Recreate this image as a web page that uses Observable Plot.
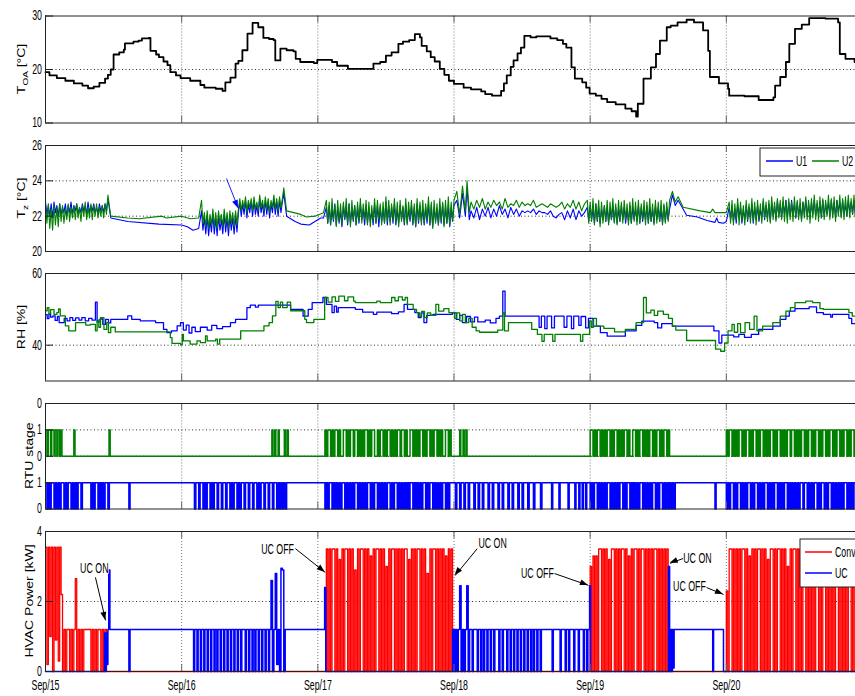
<!DOCTYPE html>
<html><head><meta charset="utf-8">
<script src="https://cdn.jsdelivr.net/npm/d3@7"></script>
<script src="https://cdn.jsdelivr.net/npm/@observablehq/plot@0.6"></script>
<style>
html,body{margin:0;padding:0;background:#fff;overflow:hidden}
#wrap{position:relative;width:855px;height:696px;overflow:hidden;background:#fff}
#wrap svg{position:absolute;left:0;overflow:hidden}
</style></head>
<body><div id="wrap"></div>
<script>
// ---------- shared axis data (hours from Sep/15 00:00) ----------
const dayTicks = [0, 24, 48, 72, 96, 120];
const dayLabels = ["Sep/15", "Sep/16", "Sep/17", "Sep/18", "Sep/19", "Sep/20"];

// ---------- Panel 1: outdoor air temperature [°C] ----------
const toa = [[0,19.5],[0.7,18.9],[2,18.4],[3.5,17.9],[5,17.4],[6.5,17.0],[7.5,16.5],[8.5,16.8],[9.5,17.5],[10.5,18.3],[11,19.0],[11.5,20.0],[12,22.8],[13,23.2],[13.8,23.7],[14,24.9],[15.5,25.2],[16.4,25.4],[17,25.8],[18.2,25.9],[18.5,23.5],[19.5,22.8],[20,22.3],[20.8,21.5],[21.5,20.8],[22,19.5],[23,18.9],[23.8,18.4],[25.5,17.9],[27.3,17.1],[28,16.6],[30,16.4],[31.2,16.0],[31.7,17.6],[32.6,18.5],[33.5,21.1],[34,21.6],[34.7,23.6],[35.6,26.7],[36.5,28.7],[37.5,27.9],[38.4,25.9],[39.4,25.7],[40.2,25.5],[40.5,21.7],[41.4,23.9],[42.5,23.6],[43.7,23.4],[44.1,22.0],[44.9,21.4],[47.3,21.2],[47.9,21.8],[50.5,21.4],[51.4,20.7],[53.3,20.1],[57.8,21.1],[59,21.4],[60,22.6],[61,23.2],[62.2,24.8],[63,25.2],[64.1,25.5],[65.1,26.6],[66,26.0],[66.3,24.4],[67.2,23.4],[67.9,22.3],[68.6,21.5],[69.5,20.1],[70.3,19.0],[71.1,17.9],[72,17.3],[73.7,16.6],[75,16.3],[76.8,15.9],[77.5,15.4],[78.7,15.1],[80.3,16.0],[80.8,17.4],[81.3,18.9],[82,20.5],[82.5,21.7],[83.2,23.0],[83.8,24.1],[84.4,26.3],[85.5,26.0],[86.5,26.2],[87.6,26.2],[89,25.8],[90.2,25.5],[91.2,24.8],[91.8,24.1],[92.7,20.4],[93.3,18.3],[94.6,17.6],[95.3,16.6],[95.9,15.5],[97,15.1],[98,14.5],[99,13.9],[100.5,13.5],[102.2,12.7],[103.3,12.2],[104.1,11.2],[104.4,13.6],[105.4,18.3],[106.7,20.4],[107.6,22.9],[108.3,25.4],[109.5,27.9],[110.2,28.2],[111.4,28.8],[113,29.3],[114.3,28.8],[115.9,27.3],[116.8,23.5],[117.1,18.6],[118.7,17.4],[120.3,16.4],[120.5,15.1],[123.2,15.0],[125.7,14.3],[128.3,14.8],[128.6,17.0],[129.5,18.6],[130.5,21.4],[131.1,24.8],[132.1,27.6],[133.3,28.4],[134.6,29.6],[137.5,29.5],[139.7,28.8],[140,22.9],[141,22.0],[142.6,21.4],[144,21.0]];

// ---------- Panel 2: zone temperature [°C] ----------
// noisy stretches: values every 0.25 h (block D every 0.5 h), from the start hours below
const tzU1A = [22.8,22.1,22.6,22.0,22.7,21.9,22.8,22.2,22.6,22.0,22.7,22.1,22.5,22.2,22.7,22.0,22.6,22.2,22.8,22.1,22.6,22.3,22.7,22.1,22.5,22.2,22.7,22.3,22.6,22.1,22.8,22.2,22.6,22.3,22.7,22.2,22.5,22.1,22.7,22.3,22.6,22.2,22.7,22.3];
const tzU2A = [22.6,21.6,22.7,21.3,22.4,21.2,22.6,21.5,22.5,21.4,22.7,21.7,22.6,21.6,22.4,21.8,22.7,21.7,22.5,21.9,22.6,21.8,22.7,21.9,22.5,21.7,22.6,22.0,22.8,21.8,22.5,21.9,22.7,21.8,22.6,22.0,22.7,21.9,22.5,22.0,22.6,21.9,22.7,22.1];
const tzU1Smooth1 = [[11,23.0],[11.5,21.9],[14.5,21.7],[20,21.55],[24,21.5],[25,21.4],[26,21.2],[27,21.3]];
const tzU2Smooth1 = [[11,23.2],[11.5,22.0],[14.5,21.9],[16.5,21.85],[20.5,22.0],[21.3,21.9],[24,22.0],[25.5,21.85],[27,21.9]];
const tzU1B = [22.3,21.2,21.9,21.0,22.0,20.9,21.8,21.1,22.1,21.0,21.9,20.9,22.0,21.2,21.8,21.0,22.1,21.1,21.9,20.9,22.0,21.2,21.9,21.0,22.0,21.1];
const tzU2B = [22.9,21.6,22.2,21.4,22.3,21.3,22.1,21.5,22.4,21.4,22.2,21.3,22.3,21.6,22.1,21.4,22.4,21.5,22.2,21.3,22.3,21.6,22.2,21.4,22.3,21.5];
const tzU1C1 = [22.2,22.8,22.0,22.7,22.1,22.9,21.9,22.7,22.2,22.8,22.0,22.9,22.1,22.6,22.0,23.0,22.2,22.7,22.0,22.9,22.1,22.8,21.9,22.7,22.2,23.0,22.1,22.8,22.0,22.9,22.2,22.8,23.3];
const tzU2C1 = [22.4,23.0,22.3,22.9,22.4,23.1,22.2,22.9,22.5,23.0,22.3,23.1,22.4,22.8,22.3,23.2,22.5,22.9,22.3,23.1,22.4,23.0,22.2,22.9,22.5,23.2,22.4,23.0,22.3,23.1,22.5,23.0,23.6];
const tzU1Smooth2 = [[42.5,22.0],[44,21.7],[45,21.55],[46.5,21.5],[47.5,21.7],[48.5,21.9],[49,21.9]];
const tzU2Smooth2 = [[42.5,22.3],[45,22.1],[46,21.95],[47.5,22.0],[49,22.2]];
const tzU1C = [22.5,21.6,22.6,21.5,22.4,21.7,22.7,21.5,22.5,21.6,22.3,21.4,22.6,21.8,22.5,21.5,22.7,21.6,22.4,21.7,22.6,21.5,22.5,21.6,22.7,21.8,22.4,21.5,22.6,21.6,22.5,21.7,22.3,21.5,22.7,21.6,22.6,21.4,22.5,21.7,22.4,21.6,22.8,21.5,22.6,21.7,22.5,21.6,22.7,21.5,22.4,21.6,22.6,21.8,22.5,21.5,22.7,21.6,22.4,21.7,22.6,21.5,22.5,21.4,22.7,21.6,22.6,21.7,22.4,21.5,22.5,21.6,22.7,21.5,22.6,21.4,22.5,21.7,22.4,21.5,22.6,21.6,22.7,21.5,22.5,21.6,22.6,21.4,22.5,21.7,22.6];
const tzU2C = [22.9,21.6,22.8,21.5,23.0,21.8,22.6,21.4,22.9,21.7,22.7,21.5,22.8,21.9,23.0,21.6,22.7,21.4,22.9,21.8,22.6,21.5,22.8,21.7,23.0,21.6,22.7,21.8,22.9,21.5,22.8,21.4,22.6,21.7,23.0,21.6,22.9,21.8,22.7,21.5,22.8,21.6,23.1,21.7,22.9,21.5,22.7,21.8,23.0,21.6,22.8,21.4,22.9,21.7,22.6,21.6,23.0,21.5,22.8,21.8,22.9,21.6,22.7,21.4,23.0,21.7,22.8,21.5,22.9,21.6,22.7,21.8,23.1,21.5,22.8,21.3,22.9,21.6,22.7,21.5,23.0,21.7,22.8,21.4,22.9,21.6,23.1,21.5,22.8,21.7,22.9];
const tzU1Spikes = [[72.5,22.9],[73,21.9],[73.5,23.3],[74,22.0],[74.3,23.6],[74.7,21.8]];
const tzU2Spikes = [[72.5,23.4],[73,22.1],[73.5,23.7],[74,22.3],[74.3,24.0],[74.7,22.2]];
const tzU1D = [22.3,21.9,22.5,21.8,22.4,22.0,22.5,21.9,22.4,22.0,22.6,22.1,22.4,21.9,22.5,22.1,22.4,22.0,22.3,22.2,22.3,22.2,22.4,22.1,22.3,22.2,22.2,22.1,22.3,22.0,21.9,22.1,22.2,21.8,22.3,21.9,22.4,21.8,22.3,22.0,22.2];
const tzU2D = [22.8,22.4,22.9,22.5,23.0,22.4,22.8,22.5,22.9,22.6,22.8,22.4,23.0,22.5,22.7,22.6,22.9,22.5,22.8,22.6,22.7,22.6,22.9,22.5,22.6,22.7,22.6,22.5,22.7,22.6,22.5,22.6,22.8,22.4,22.7,22.5,22.9,22.4,22.8,22.3,22.7];
const tzU1E = [22.5,21.7,22.6,21.8,22.4,21.6,22.7,21.7,22.5,21.6,22.4,21.8,22.6,21.7,22.5,21.6,22.4,21.8,22.6,21.7,22.5,21.6,22.4,21.7,22.6,21.8,22.5,21.6,22.4,21.7,22.6,21.6,22.5,21.8,22.4,21.7,22.6,21.6,22.5,21.7,22.4,21.8,22.6,21.6,22.5,21.7,22.4,21.6,22.6,21.8,22.5,21.7,22.4,21.6,22.6,21.7,22.5,21.8,22.4];
const tzU2E = [22.9,21.6,22.8,21.7,23.0,21.5,22.7,21.8,22.9,21.4,22.8,21.6,22.6,21.7,22.9,21.5,22.8,21.8,23.0,21.6,22.7,21.5,22.9,21.7,22.8,21.6,22.9,21.8,22.7,21.5,22.8,21.6,23.0,21.7,22.8,21.5,22.9,21.6,22.7,21.8,22.9,21.5,22.8,21.6,23.0,21.7,22.7,21.5,22.9,21.6,22.8,21.7,22.9,21.5,22.7,21.6,22.8,21.7,22.9];
const tzU1Smooth3 = [[110.5,23.2],[111,22.6],[111.5,22.9],[113,22.05],[114.9,21.95],[116.6,21.75],[118,21.65],[118.3,21.9],[118.6,21.65],[119.5,21.6],[120,21.7]];
const tzU2Smooth3 = [[110.5,23.4],[111,22.8],[111.5,23.1],[112.4,22.5],[115.4,22.3],[117.2,22.2],[117.6,22.4],[118,22.2],[120,22.2]];
const tzU1F = [22.5,21.8,22.6,21.7,22.4,21.6,22.7,21.9,22.5,21.6,22.4,21.8,22.6,21.7,22.5,21.9,22.7,21.6,22.5,21.8,22.6,21.7,22.4,21.9,22.8,21.8,22.6,21.9,22.7,21.7,22.8,22.0,22.6,21.8,22.9,22.0,22.7,21.9,22.8,22.1,22.9,21.9,22.8,22.0,22.9,22.1,22.7,21.9,22.8,22.0,22.6,21.8,22.8,22.1,22.9,22.0,22.7,21.9,22.8,22.1,22.9,22.0,22.7,22.1,22.8,21.9,22.9,22.0,22.7,22.1,22.8,22.0,22.9,22.1,22.8,21.9,22.9,22.2,22.8,22.0,22.9,22.1,22.7,22.0,22.9,22.2,22.8,22.1,22.9,22.0,22.8];
const tzU2F = [22.8,21.6,22.9,21.5,22.7,21.8,23.0,21.5,22.8,21.7,22.6,21.5,22.9,21.8,22.7,21.6,23.0,21.7,22.8,21.5,22.9,21.8,22.7,21.6,23.0,21.9,22.8,21.7,22.9,21.6,23.1,21.8,22.8,21.7,23.0,21.9,22.9,21.8,23.1,21.7,22.9,21.6,23.0,21.8,22.8,21.7,23.1,21.9,22.9,21.8,23.0,21.7,22.8,21.9,23.1,21.8,22.9,21.6,23.0,21.9,23.2,21.8,22.9,21.7,23.1,21.9,23.0,21.8,22.9,22.0,23.2,21.8,23.0,21.9,23.1,21.7,22.9,22.0,23.2,21.9,23.0,21.8,23.1,22.0,23.2,21.9,23.0,22.1,23.2,21.9,23.1];
const tzNoiseStarts = [0, 27.5, 34, 49.5, 75, 95.5, 120.5];
const tzLegend = ["U1", "U2"];
const tzArrow = {h1: 31.9, v1: 24.13, h2: 34.0, v2: 22.43};

// ---------- Panel 3: relative humidity [%] ----------
const rhU1 = [[0,48.5],[0.3,47.4],[0.6,48.7],[0.9,47.8],[1.3,48.2],[1.7,46.9],[2.1,48.0],[2.4,46.3],[3.3,47.5],[3.8,46.8],[4.3,47.7],[4.8,46.9],[5.3,47.6],[5.9,47.0],[6.4,47.7],[7,46.8],[7.6,47.5],[8.2,47.0],[8.8,52.0],[9.1,46.5],[9.6,47.3],[10.1,45.8],[10.6,47.2],[11.1,46.2],[11.5,47.2],[14.5,48.2],[15.2,47.2],[16.7,46.8],[19.4,46.3],[20.8,44.4],[21.4,43.5],[22.2,44.0],[23.2,45.4],[23.8,46.3],[24.3,44.2],[24.8,45.6],[25.3,43.4],[25.8,45.0],[26.4,43.8],[27.3,45.0],[28.5,44.2],[29.3,45.5],[30.2,44.6],[31.2,45.2],[32.6,46.3],[33.5,47.2],[35.5,50.5],[36.1,51.2],[37,50.6],[37.5,51.2],[43.2,50.0],[45.4,48.1],[46.3,50.0],[47,51.9],[48.9,53.3],[49.5,51.4],[50.5,49.1],[50.9,50.9],[51.3,49.2],[51.6,50.5],[54.6,50.0],[55.9,49.2],[57.8,48.6],[58.4,49.2],[61,48.8],[62.2,49.3],[63.2,51.4],[63.8,50.0],[65.1,49.1],[65.7,47.7],[66.2,49.0],[66.7,46.3],[67.2,48.3],[68.3,48.6],[71.7,49.0],[72.4,47.2],[73,48.3],[73.5,46.3],[74.2,48.0],[74.9,46.5],[75.6,47.8],[76.2,46.5],[77.5,47.0],[78.4,46.2],[79.4,47.5],[80,48.1],[80.6,55.1],[81,48.1],[87,45.0],[87.4,48.1],[88,44.6],[88.4,48.1],[89.2,44.8],[89.7,48.1],[91.4,45.0],[91.9,48.1],[92.7,44.6],[93.1,48.1],[94,45.5],[94.4,48.0],[95.2,44.8],[95.7,47.5],[96.5,45.3],[97.8,43.5],[99,42.5],[102.2,44.0],[104.1,45.5],[105.1,46.7],[107.3,46.3],[107.9,44.8],[108.6,46.0],[110.5,45.3],[117.8,44.0],[118.7,40.6],[119.2,42.8],[121.3,42.3],[122.2,43.0],[123.2,42.2],[124.4,43.0],[125.7,44.4],[128.2,45.3],[129.5,47.2],[130.5,48.1],[131.1,49.5],[132.1,50.2],[134.6,50.7],[135.9,49.1],[137.1,48.6],[138.4,47.8],[138.7,48.6],[141.6,47.5],[142.1,46.0],[144,46.0]];
const rhU2 = [[0,49.6],[0.3,50.5],[0.6,48.8],[0.9,49.9],[1.5,48.6],[2,49.1],[2.3,50.1],[2.6,48.2],[3.5,45.4],[4.1,44.0],[5.3,46.3],[7.1,45.6],[7.9,45.8],[8.8,44.0],[9.1,47.0],[9.4,45.0],[9.7,47.7],[10.3,44.4],[10.8,46.3],[11.1,43.5],[11.5,45.0],[12.3,43.7],[22,42.1],[22.3,40.5],[23.8,40.1],[24.1,43.0],[24.3,41.2],[25.5,40.3],[26.7,41.2],[27.3,40.7],[28.2,42.6],[28.5,41.2],[30,41.7],[30.3,40.3],[30.7,41.7],[34.4,44.0],[38.5,45.4],[39.4,46.3],[40,48.2],[40.6,52.2],[41,50.5],[41.4,52.0],[41.8,50.5],[42.6,52.0],[43.2,49.6],[45.7,47.2],[46,46.3],[47.3,47.2],[49.2,53.3],[49.8,52.0],[50.5,53.5],[51.1,52.2],[51.7,53.7],[52.7,52.4],[53.3,53.5],[54.3,52.3],[54.6,51.9],[58.4,52.3],[59,51.9],[61,53.3],[61.6,52.4],[62.2,53.5],[62.9,52.6],[63.4,53.3],[63.8,51.4],[64.8,50.0],[65.4,49.1],[65.9,48.0],[66.3,49.4],[66.8,47.7],[67.3,49.0],[67.9,48.3],[68.8,51.4],[69.3,49.5],[70.2,50.2],[71.1,49.1],[72.1,47.5],[72.5,49.0],[73,46.8],[73.5,48.6],[74,46.3],[74.6,47.5],[75.2,45.0],[75.9,44.0],[76.5,43.6],[79.7,44.2],[80.6,49.1],[80.9,44.0],[81.6,46.3],[85.7,44.4],[86.7,43.0],[87.5,41.1],[87.9,43.0],[89.4,41.1],[89.8,43.0],[94.3,41.1],[94.7,43.0],[95.9,46.8],[96.2,45.0],[96.6,47.5],[97.1,45.3],[98.4,44.7],[100.3,43.7],[102.2,44.4],[104.1,46.3],[105.4,53.3],[105.9,49.0],[106.7,49.8],[107.3,48.3],[107.9,49.5],[108.9,48.6],[109.8,47.5],[110.5,45.3],[111.1,44.2],[113,41.3],[118.1,38.9],[119,38.3],[119.7,40.6],[120.3,44.0],[121,45.8],[121.4,43.6],[122,46.0],[122.5,43.5],[123.3,46.3],[124.1,44.4],[124.9,48.1],[125.4,44.0],[126.4,45.3],[128.2,46.3],[129.5,48.1],[130.5,49.5],[131.3,50.5],[132.1,51.9],[134,52.3],[135.2,51.9],[136.5,50.2],[137.1,50.0],[141.6,49.1],[142.2,48.1],[144,48.0]];

// ---------- Panel 4: RTU stage (0/1), dense stretches every 0.25 h ----------
const rtuU2Sparse = [[0,1],[0.25,0],[0.5,1],[0.9,0],[1.1,1],[1.5,0],[1.7,1],[2.0,0],[2.2,1],[2.5,0],[2.7,1],[2.9,0],[5.0,1],[5.2,0],[11.2,1],[11.4,0],[39.9,1],[40.1,0],[40.4,1],[40.6,0],[41.0,1],[41.2,0],[42.1,1],[42.3,0],[42.6,1],[42.8,0],[71.75,0],[73,1],[73.2,0],[73.6,1],[73.8,0],[74.1,1],[74.3,0],[110.25,0]];
const rtuU2DenseA = [1,0,1,1,0,1,0,1, 1,0,1,0,0,1,1,0, 1,0,1,1,0,1,1,0, 1,0,1,0,1,1,0,1, 0,1,1,0,0,1,0,1, 1,0,1,0,1,1,0,1, 0,1,0,1,1,0,1,1, 0,1,0,0,1,1,0,1, 0,1,0,1,1,0,1,0, 1,1,0,1,0,1,1,0, 1,0,1,0,0,1,1,0, 1,0];
const rtuU2DenseB = [1,1,0,1,0,1,1,0, 1,0,1,0,1,1,0,1, 0,1,1,0,1,0,1,0, 1,1,0,1,0,0,1,1, 0,1,0,1,1,0,1,0, 1,0,1,1,0,1,0,1, 1,0,1,0,1,1,0,1, 0];
const rtuU2DenseC = [1,0,1,1,0,1,0,1, 0,1,1,0,1,0,1,1, 0,1,0,1,1,0,1,0, 1,1,0,1,0,1,0,1, 1,0,1,0,1,1,0,1, 0,1,0,1,1,0,1,1, 0,1,0,1,0,1,1,0, 1,0,1,1,0,1,0,1, 1,0,1,0,1,1,0,1, 0,1,1,0,1,0,1,1, 0,1,0,1,1,0,1,0, 1,1,0,1,0,1,1,0];
const rtuU2DenseStarts = [49.25, 96, 120];
const rtuU1Sparse = [[6.75,1],[11.5,1],[14.7,0],[14.9,1],[43,1],[87.75,1],[111.5,1],[118,0],[118.2,1]];
const rtuU1Drops = [89.2, 90.5, 92.1, 93.3, 94.0, 94.6, 95.2];
const rtuU1DenseA = [1,0,1,0,1,1,0,1, 0,1,0,1,1,0,1,0, 1,1,0,1,0,1,0,1, 1,0,1];
const rtuU1DenseB = [0,1,0,1,1,0,1,0, 1,0,1,1,0,1];
const rtuU1DenseC = [1,0,1,1,0,1,1,0, 1,0,1,1,0,1,0,1, 1,0,1,1,0,1,1,0, 1,1,0,1,0,1,1,0, 1,0,1,1,0,1,1,0, 1,1,0,1,1,0,1,0, 1,1,0,1,1,0,1,1, 0,1,1,0,1,0,1,0, 1,0,1,1];
const rtuU1DenseD = [0,1,0,1,1,0,1,0, 1,0,1,0,1,1,0,1, 0,1,0,1,0,1,1,0, 1,0,1,0,1,0,1,1, 0,1,0,1,1,0,1,0, 1,0,1,0,1,1,0,1, 0,1,1,0,1,0,1,0, 1,0,1,0,1,1,0,1, 0,1,0,1,0,1,1,0, 1,0,1,1,0,1,0,1, 0,1,0,1,1,0,1,0, 1,1];
const rtuU1DenseE = [1,1,0,1,1,0,1,1, 0,1,1,0,1,1,1,0, 1,1,0,1,1,0,1,1, 1,0,1,1,0,1,1,1, 0,1,1,0,1,1,1,0, 1,1,0,1,1,1,0,1, 1,0,1,1,1,0,1,1, 1,0,1,1,1,1,0,1];
const rtuU1DenseF = [0,1,0,1,1,0,1,0, 1,0,1,0,1,1,0,1, 0,1,0,1,0,1,1,0, 1,0,1,1,0,1,0,1, 0,1,0,1,1,0,1,0, 1,0,1,0,1,1,0,1, 0,1,1,0,1,0,1,0, 1,0,1,0,1,1];
const rtuU1DenseG = [0,1,0,1,1,0,1,0, 1,1,0,1,0,1,0,1, 1,0,1,0,1,1,0,1, 0,1,0,1,1,0,1,0, 1,0,1,1,0,1,0,1, 0,1,1,0,1,0,1,0, 1,0,1,0,1,1,0,1, 1,0,1,0,1,0,1,1, 0,1,0,1,1,0,1,0, 1,1,0,1,0,1,0,1, 0,1,0,1,1,0,1,0, 1,0,1,1,0,1,0,1];
const rtuU1DenseStarts = [0, 8, 26, 49.25, 71.75, 96, 120];
const rtuTicks = [0, 1, 2, 3, 4];
const rtuTickLabels = ["0", "1", "0", "1", "0"];

// ---------- Panel 5: HVAC power [kW] ----------
const convSparse = [[2.75,2.2],[6.75,1.2],[10.75,0],[71.75,0],[109.75,0]];
const convDense1 = [3.55,0.2,3.55,1.0,3.55,0,3.55,0.9,3.55,0.3,3.55];
const convDense2 = [0,1.2,0,1.2,1.2,0,1.2,0,1.2,2.65,0,1.2,0,1.2,0];
const convDense3 = [0,1.2,0,1.2,0,1.2,1.2,0,1.2,0,1.2];
const convDense4 = [3.5,0,3.5,0,3.5,3.5,0,3.5, 0,3.2,0,3.5,0,3.5,3.5,0, 3.5,0,3.5,0,2.9,0,3.5,0, 3.5,3.5,0,3.5,0,3.5,0,3.3, 0,3.5,0,3.5,3.5,0,3.5,0, 3.5,0,3.0,0,3.5,0,3.5,3.5, 0,3.5,0,3.5,0,3.5,0,3.5, 3.5,0,3.2,0,3.5,0,3.5,0, 3.5,3.5,0,3.5,0,3.5,0,2.8, 0,3.5,0,3.5,3.5,0,3.5,0, 3.5,0,3.5,0,3.3,0,3.5,0, 3.5];
const convDense5 = [3.0,0,3.3,0,3.3,0,3.5,3.5, 0,3.5,0,3.5,0,3.2,0,3.5, 3.5,0,3.5,0,3.5,0,3.5,3.5, 0,3.5,0,3.3,0,3.5,0,3.5, 3.5,0,3.5,0,3.5,3.5,0,3.5, 0,3.5,0,3.5,0,3.5,3.5,0, 3.5,0,3.5,0,3.5,0,3.5];
const convDense6 = [2.3,0,3.5,3.5,0,3.5,0,3.5, 0,3.5,0,3.5,3.5,0,3.5,0, 3.3,0,3.5,0,3.5,0,3.5,3.5, 0,3.5,0,3.5,0,3.2,0,3.5, 3.5,0,3.5,0,3.5,3.5,0,3.5, 0,3.5,0,3.0,0,3.5,0,3.5, 3.5,0,3.5,0,3.5,0,3.5,3.5, 0,3.3,0,3.5,0,3.5,0,3.5, 3.5,0,3.5,0,3.5,3.5,0,3.5, 0,3.5,0,3.5,0,3.5,3.5,0, 3.5,0,3.2,0,3.5,0,3.5,3.5, 0,3.5,0,3.5,0,3.5,0,3.5];
const convDenseStarts = [0, 3, 8, 49.5, 96, 120];
const ucSparse = [[0,0],[10.4,1.1],[10.55,0],[10.7,1.1],[10.85,0.2],[11.0,1.2],[11.15,2.9],[11.35,1.2],[14.7,0],[14.9,1.2],[42.5,1.2],[49.2,2.4],[49.4,0],[74.75,1.2],[95.9,2.45],[96.05,0],[109.8,3.0],[110,0],[110.2,1.2],[110.35,0],[110.5,1.2],[110.65,0.1],[110.8,1.2],[117.6,0],[117.75,1.2],[119.5,0],[144,0]];
const ucDrops1 = [26.1,26.7,27.3,27.9,28.5,29.1,29.7,30.2,30.8,31.4,32.0,32.6,33.2,33.8,34.4,35.2,35.8,36.4,36.9,37.5,38.1,38.7,39.3];
const ucDrops2 = [75.2,76.1,76.7,77.2,77.8,78.4,79.0,79.9,80.5,81.3,81.9,82.5,83.1,83.7,84.3,84.9,85.5,86.0,86.6,87.2,89.3,90.7,91.6,92.2,93.1,93.9,94.8,95.4];
const ucDense1 = [2.6,0,1.2,2.8,0.2,1.2,0,2.95,2.9,0,1.2];
const ucDense2 = [1.2,0,1.2,0,1.2,2.45,0,1.2,0,1.2,2.45,0];
const ucDenseStarts = [39.75, 71.75];
const ucLevel = 1.2;
const powerLegend = ["Conv", "UC"];
const annotText = ["UC ON", "UC OFF", "UC ON", "UC OFF", "UC ON", "UC OFF"];
const annotH = [8.6, 40.9, 78.8, 86.7, 114.9, 113.5];
const annotKW = [2.94, 3.49, 3.66, 2.8, 3.23, 2.43];
const arrowFromH = [8.8, 44.05, 76.1, 89.7, 112.4, 116.5];
const arrowFromKW = [2.69, 3.51, 3.51, 2.8, 3.23, 2.4];
const arrowToH = [10.6, 49.3, 72.2, 95.7, 110.1, 119.5];
const arrowToKW = [1.46, 2.83, 2.74, 2.46, 3.09, 2.2];

// ---------- assembly helpers ----------
const seq = (h0, vals, step) => vals.map((v, i) => [h0 + i * step, v]);
const byTime = a => a.slice().sort((p, q) => p[0] - q[0]);
const drops = (ts, hi) => ts.flatMap(t => [[t, 0], [t + 0.2, hi]]);
const S = tzNoiseStarts;

const tzU1 = byTime([...seq(S[0], tzU1A, 0.25), ...tzU1Smooth1, ...seq(S[1], tzU1B, 0.25), ...seq(S[2], tzU1C1, 0.25), ...tzU1Smooth2, ...seq(S[3], tzU1C, 0.25), ...tzU1Spikes, ...seq(S[4], tzU1D, 0.5), ...seq(S[5], tzU1E, 0.25), ...tzU1Smooth3, ...seq(S[6], tzU1F, 0.25)]);
const tzU2 = byTime([...seq(S[0], tzU2A, 0.25), ...tzU2Smooth1, ...seq(S[1], tzU2B, 0.25), ...seq(S[2], tzU2C1, 0.25), ...tzU2Smooth2, ...seq(S[3], tzU2C, 0.25), ...tzU2Spikes, ...seq(S[4], tzU2D, 0.5), ...seq(S[5], tzU2E, 0.25), ...tzU2Smooth3, ...seq(S[6], tzU2F, 0.25)]);

const rtuU2 = byTime([...rtuU2Sparse, ...[rtuU2DenseA, rtuU2DenseB, rtuU2DenseC].flatMap((a, i) => seq(rtuU2DenseStarts[i], a, 0.25))]);
const rtuU1 = byTime([...rtuU1Sparse, ...drops(rtuU1Drops, 1), ...[rtuU1DenseA, rtuU1DenseB, rtuU1DenseC, rtuU1DenseD, rtuU1DenseE, rtuU1DenseF, rtuU1DenseG].flatMap((a, i) => seq(rtuU1DenseStarts[i], a, 0.25))]);

const conv = byTime([...convSparse, ...[convDense1, convDense2, convDense3, convDense4, convDense5, convDense6].flatMap((a, i) => seq(convDenseStarts[i], a, 0.25))]);
const uc = byTime([...ucSparse, ...drops(ucDrops1, ucLevel), ...drops(ucDrops2, ucLevel), ...[ucDense1, ucDense2].flatMap((a, i) => seq(ucDenseStarts[i], a, 0.25))]);

// ---------- drawing ----------
const FONT = "'Liberation Sans', Arial, Helvetica, sans-serif";
const SX = 0.63;
const wrap = document.getElementById("wrap");
const X0 = 45, X1 = 862;

function squeeze(svg) {
  svg.querySelectorAll("text").forEach(t => {
    let tr = t.getAttribute("transform");
    if (!tr) {
      const x = parseFloat(t.getAttribute("x")) || 0;
      t.removeAttribute("x");
      tr = `translate(${x},0)`;
    }
    t.setAttribute("transform", `${tr} scale(${SX},1)`);
  });
}

function panel({top, mt, plotH, mb, ydom, yticks, ylabels, gridY, marks, xaxis = false}) {
  const height = mt + plotH + mb;
  const [y0, y1] = ydom;
  const tlen = 7 * (y1 - y0) / plotH;
  const hx = 8 * 144 / (X1 - X0);
  const chart = Plot.plot({
    width: 855, height, marginLeft: X0, marginRight: 0, marginTop: mt, marginBottom: mb,
    style: {fontFamily: FONT, fontSize: "14px", background: "transparent", color: "black"},
    x: {domain: [0, 144], range: [X0, X1], axis: null, label: null},
    y: {domain: ydom, label: null},
    marks: [
      Plot.ruleX(dayTicks, {x: d => d, y1: y0, y2: y1, stroke: "#777", strokeDasharray: "1,2"}),
      Plot.ruleY(gridY, {y: d => d, stroke: "#333", strokeDasharray: "1,2.5"}),
      ...marks,
      Plot.ruleX(dayTicks, {x: d => d, y1: y0, y2: y0 + tlen, stroke: "#666"}),
      Plot.ruleX(dayTicks, {x: d => d, y1: y1 - tlen, y2: y1, stroke: "#666"}),
      Plot.ruleY(yticks, {y: d => d, x1: 0, x2: hx, stroke: "#222"}),
      Plot.ruleY([y0, y1], {y: d => d, stroke: "#222"}),
      Plot.ruleX([0], {x: d => d, y1: y0, y2: y1, stroke: "#222"}),
      Plot.axisY({ticks: yticks, tickSize: 0, tickPadding: 3.5, tickFormat: d => ylabels[yticks.indexOf(d)], fontSize: 14}),
      ...(xaxis ? [Plot.axisX({ticks: dayTicks, tickSize: 0, tickPadding: 8.5, tickFormat: d => dayLabels[dayTicks.indexOf(d)], fontSize: 14})] : [])
    ]
  });
  chart.style.position = "absolute";
  chart.style.top = top + "px";
  chart.style.left = "0px";
  wrap.appendChild(chart);
  squeeze(chart);
  return chart;
}

function yTitle(chart, x, y, parts) {
  const t = d3.select(chart).append("text")
    .attr("transform", `translate(${x},${y}) rotate(-90) scale(1,0.72)`)
    .attr("text-anchor", "middle").attr("font-family", FONT).attr("font-size", 14).attr("fill", "black");
  parts.forEach(p => {
    const s = t.append("tspan").text(p.t);
    if (p.sub) s.attr("font-size", 10).attr("dy", 4);
    if (p.after) s.attr("dy", -4);
  });
}

function heads(chart, h1, v1, h2, v2, color) {
  const Xs = chart.scale("x"), Ys = chart.scale("y");
  const g = d3.select(chart).append("g").attr("fill", color);
  h1.forEach((_, i) => {
    const ax = Xs.apply(h1[i]), ay = Ys.apply(v1[i]), bx = Xs.apply(h2[i]), by = Ys.apply(v2[i]);
    const a = Math.atan2(by - ay, bx - ax), L = 8, W = 3;
    const px = bx - L * Math.cos(a), py = by - L * Math.sin(a);
    const pts = [[bx, by], [px - W * Math.sin(a), py + W * Math.cos(a)], [px + W * Math.sin(a), py - W * Math.cos(a)]];
    g.append("polygon").attr("points", pts.map(p => p.join(",")).join(" "));
  });
}

function legendBox(chart, x, y, w, h, entries) {
  const g = d3.select(chart).append("g");
  g.append("rect").attr("x", x).attr("y", y).attr("width", w).attr("height", h).attr("fill", "white").attr("stroke", "#222");
  entries.forEach(e => {
    g.append("line").attr("x1", e.lx).attr("x2", e.lx + 27).attr("y1", e.ly).attr("y2", e.ly).attr("stroke", e.color).attr("stroke-width", 1.5);
    g.append("text").attr("transform", `translate(${e.lx + 30},${e.ly + 5}) scale(${SX},1)`)
      .attr("text-anchor", "start").attr("font-family", FONT).attr("font-size", 14).attr("fill", "black").text(e.label);
  });
}

// Panel 1
const p1 = panel({top: 0, mt: 15.5, plotH: 107, mb: 14, ydom: [10, 30], yticks: [10, 20, 30], ylabels: ["10", "20", "30"], gridY: [20],
  marks: [Plot.line(toa, {x: d => d[0], y: d => d[1], curve: "step-after", stroke: "black", strokeWidth: 1.8})]});
yTitle(p1, 25, 15.5 + 53.5, [{t: "T"}, {t: "OA", sub: true}, {t: " [°C]", after: true}]);

// Panel 2
const p2 = panel({top: 129, mt: 16, plotH: 106, mb: 16, ydom: [20, 26], yticks: [20, 22, 24, 26], ylabels: ["20", "22", "24", "26"], gridY: [22, 24],
  marks: [
    Plot.line(tzU1, {x: d => d[0], y: d => d[1], stroke: "#0000ff", strokeWidth: 1.1}),
    Plot.line(tzU2, {x: d => d[0], y: d => d[1], stroke: "#008000", strokeWidth: 1.1}),
    Plot.link([tzArrow], {x1: "h1", y1: "v1", x2: "h2", y2: "v2", stroke: "#0000ff", strokeWidth: 0.9})
  ]});
heads(p2, [tzArrow.h1], [tzArrow.v1], [tzArrow.h2], [tzArrow.v2], "#0000ff");
yTitle(p2, 25, 16 + 53, [{t: "T"}, {t: "z", sub: true}, {t: " [°C]", after: true}]);
legendBox(p2, 760, 19, 110, 28, [
  {lx: 766, ly: 32, color: "#0000ff", label: tzLegend[0]},
  {lx: 812, ly: 32, color: "#008000", label: tzLegend[1]}
]);

// Panel 3
const p3 = panel({top: 257, mt: 16, plotH: 107.5, mb: 16, ydom: [30, 60], yticks: [40, 60], ylabels: ["40", "60"], gridY: [40],
  marks: [
    Plot.line(rhU1, {x: d => d[0], y: d => d[1], curve: "step-after", stroke: "#0000ff", strokeWidth: 1.3}),
    Plot.line(rhU2, {x: d => d[0], y: d => d[1], curve: "step-after", stroke: "#008000", strokeWidth: 1.3})
  ]});
yTitle(p3, 25, 16 + 54, [{t: "RH [%]"}]);

// Panel 4
const p4 = panel({top: 387, mt: 16, plotH: 105.5, mb: 16, ydom: [0, 4], yticks: rtuTicks, ylabels: rtuTickLabels, gridY: [1, 2, 3],
  marks: [
    Plot.line(rtuU2, {x: d => d[0], y: d => d[1] + 2, curve: "step-after", stroke: "#008000", strokeWidth: 1.5}),
    Plot.line(rtuU1, {x: d => d[0], y: d => d[1], curve: "step-after", stroke: "#0000ff", strokeWidth: 1.5})
  ]});
yTitle(p4, 33, 16 + 52.75, [{t: "RTU stage"}]);

// Panel 5
const annIdx = annotText.map((_, i) => i);
const p5 = panel({top: 515, mt: 16, plotH: 140, mb: 25, ydom: [0, 4], yticks: [0, 2, 4], ylabels: ["0", "2", "4"], gridY: [2], xaxis: true,
  marks: [
    Plot.line(conv, {x: d => d[0], y: d => d[1], curve: "step-after", stroke: "#ff0000", strokeWidth: 1.3}),
    Plot.line(uc, {x: d => d[0], y: d => d[1], curve: "step-after", stroke: "#0000ff", strokeWidth: 1.5}),
    Plot.link(annIdx, {x1: i => arrowFromH[i], y1: i => arrowFromKW[i], x2: i => arrowToH[i], y2: i => arrowToKW[i], stroke: "black", strokeWidth: 1}),
    Plot.text(annIdx, {x: i => annotH[i], y: i => annotKW[i], text: i => annotText[i], fontSize: 14, fill: "black", stroke: "white", strokeWidth: 2, paintOrder: "stroke"})
  ]});
heads(p5, arrowFromH, arrowFromKW, arrowToH, arrowToKW, "black");
yTitle(p5, 33, 16 + 70, [{t: "HVAC Power [kW]"}]);
legendBox(p5, 800, 24, 80, 48, [
  {lx: 805, ly: 37, color: "#ff0000", label: powerLegend[0]},
  {lx: 805, ly: 58, color: "#0000ff", label: powerLegend[1]}
]);
</script>
</body></html>
